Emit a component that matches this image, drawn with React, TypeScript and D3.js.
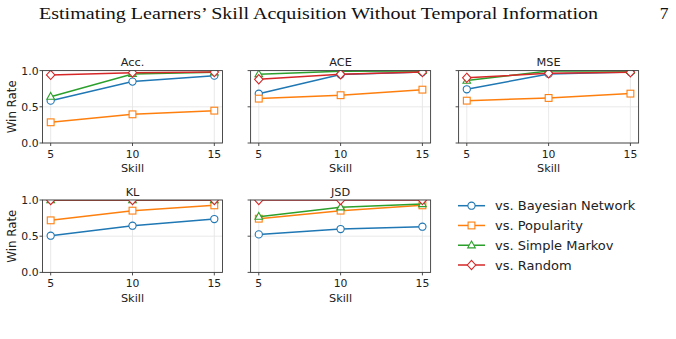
import * as d3 from 'd3';

// chart values
const skills = [5, 10, 15];
const panelTitles = ['Acc.', 'ACE', 'MSE', 'KL', 'JSD'];
const seriesNames = ['vs. Bayesian Network', 'vs. Popularity', 'vs. Simple Markov', 'vs. Random'];
const seriesColors = ['#1f77b4', '#ff7f0e', '#2ca02c', '#d62728'];
const seriesMarkers = ['circle', 'square', 'triangle', 'diamond'];

const accValues = [
  [0.585, 0.848, 0.93],
  [0.286, 0.396, 0.447],
  [0.64, 0.954, 0.977],
  [0.94, 0.972, 0.98],
];
const aceValues = [
  [0.68, 0.945, 0.98],
  [0.613, 0.66, 0.737],
  [0.95, 0.99, 0.995],
  [0.88, 0.95, 0.98],
];
const mseValues = [
  [0.742, 0.954, 0.98],
  [0.585, 0.622, 0.682],
  [0.862, 0.995, 0.995],
  [0.9, 0.963, 0.977],
];
const klValues = [
  [0.507, 0.645, 0.737],
  [0.719, 0.853, 0.926],
  [1.0, 1.0, 1.0],
  [1.0, 1.0, 1.0],
];
const jsdValues = [
  [0.525, 0.599, 0.631],
  [0.742, 0.853, 0.926],
  [0.77, 0.899, 0.945],
  [1.0, 1.0, 1.0],
];
const panelValues = [accValues, aceValues, mseValues, klValues, jsdValues];
const yTicks = [0, 0.5, 1];

const FONT = "'DejaVu Sans', 'Noto Sans', sans-serif";
const SERIF = "'Liberation Serif', 'DejaVu Serif', serif";

const plotW = 180;
const plotH = 72.4;
const colLeft = [42.5, 250.6, 458.6];
const rowTop = [70.6, 200];

function Marker({ kind, x, y, color }: { kind: string; x: number; y: number; color: string }) {
  const sw = 1.1;
  if (kind === 'circle')
    return <circle cx={x} cy={y} r={3.6} fill="#fff" stroke={color} strokeWidth={sw} />;
  if (kind === 'square')
    return <rect x={x - 3.4} y={y - 3.4} width={6.8} height={6.8} fill="#fff" stroke={color} strokeWidth={sw} />;
  if (kind === 'triangle') {
    const p = d3.path();
    p.moveTo(x, y - 4.2);
    p.lineTo(x + 3.8, y + 2.6);
    p.lineTo(x - 3.8, y + 2.6);
    p.closePath();
    return <path d={p.toString()} fill="#fff" stroke={color} strokeWidth={sw} />;
  }
  const p = d3.path();
  p.moveTo(x, y - 4.6);
  p.lineTo(x + 4.2, y);
  p.lineTo(x, y + 4.6);
  p.lineTo(x - 4.2, y);
  p.closePath();
  return <path d={p.toString()} fill="#fff" stroke={color} strokeWidth={sw} />;
}

function Panel({ idx }: { idx: number }) {
  const col = idx % 3;
  const row = Math.floor(idx / 3);
  const left = colLeft[col];
  const top = rowTop[row];
  const x = d3.scaleLinear().domain([4.5, 15.5]).range([left, left + plotW]);
  const y = d3.scaleLinear().domain([0, 1]).range([top + plotH, top]);
  const line = d3.line<number>().x((_, i) => x(skills[i])).y(d => y(d));
  const clipId = `clip-${idx}`;
  const data = panelValues[idx];
  return (
    <g>
      <defs>
        <clipPath id={clipId}>
          <rect x={left} y={top} width={plotW} height={plotH} />
        </clipPath>
      </defs>
      {skills.map(s => (
        <line key={'gx' + s} x1={x(s)} x2={x(s)} y1={top} y2={top + plotH} stroke="#e3e3e3" strokeWidth={0.8} />
      ))}
      {yTicks.map(t => (
        <line key={'gy' + t} x1={left} x2={left + plotW} y1={y(t)} y2={y(t)} stroke="#e3e3e3" strokeWidth={0.8} />
      ))}
      <g clipPath={`url(#${clipId})`}>
        {data.map((vals, si) => (
          <g key={si}>
            <path d={line(vals) ?? ''} fill="none" stroke={seriesColors[si]} strokeWidth={1.5} />
            {vals.map((v, i) => (
              <Marker key={i} kind={seriesMarkers[si]} x={x(skills[i])} y={y(v)} color={seriesColors[si]} />
            ))}
          </g>
        ))}
      </g>
      <rect x={left} y={top} width={plotW} height={plotH} fill="none" stroke="#3a3a3a" strokeWidth={0.9} />
      {skills.map(s => (
        <g key={'tx' + s}>
          <line x1={x(s)} x2={x(s)} y1={top + plotH} y2={top + plotH + 3} stroke="#3a3a3a" strokeWidth={0.9} />
          <text x={x(s)} y={top + plotH + 14.8} textAnchor="middle" fontSize={10.8} fill="#222" fontFamily={FONT}>
            {s}
          </text>
        </g>
      ))}
      {yTicks.map(t => (
        <g key={'ty' + t}>
          <line x1={left - 3} x2={left} y1={y(t)} y2={y(t)} stroke="#3a3a3a" strokeWidth={0.9} />
          {col === 0 && (
            <text x={left - 4} y={y(t) + 3.9} textAnchor="end" fontSize={10.8} fill="#222" fontFamily={FONT}>
              {d3.format('.1f')(t)}
            </text>
          )}
        </g>
      ))}
      <text x={left + plotW / 2} y={top - 4.3} textAnchor="middle" fontSize={11.3} fill="#222" fontFamily={FONT}>
        {panelTitles[idx]}
      </text>
      <text x={left + plotW / 2} y={top + plotH + 29.3} textAnchor="middle" fontSize={11.3} fill="#222" fontFamily={FONT}>
        Skill
      </text>
      {col === 0 && (
        <text
          transform={`translate(${left - 26.5},${top + plotH / 2}) rotate(-90)`}
          textAnchor="middle"
          fontSize={11.8}
          fill="#222"
          fontFamily={FONT}
        >
          Win Rate
        </text>
      )}
    </g>
  );
}

export default function App() {
  const legendX = 458;
  const legendY = d3.scaleLinear().domain([0, 3]).range([205.7, 265]);
  return (
    <svg width={676} height={339} style={{ position: 'absolute', left: 0, top: 0, background: '#fff' }}>
      <rect width={676} height={339} fill="#fff" />
      <text x={39} y={19} fontSize={17.5} fontFamily={SERIF} fill="#111" textLength={559} lengthAdjust="spacingAndGlyphs">
        Estimating Learners’ Skill Acquisition Without Temporal Information
      </text>
      <text x={664} y={19} fontSize={17.5} textAnchor="middle" fontFamily={SERIF} fill="#111">
        7
      </text>
      {panelTitles.map((_, i) => (
        <Panel key={i} idx={i} />
      ))}
      {seriesNames.map((name, i) => (
        <g key={name}>
          <line x1={legendX} x2={legendX + 27} y1={legendY(i)} y2={legendY(i)} stroke={seriesColors[i]} strokeWidth={1.5} />
          <Marker kind={seriesMarkers[i]} x={legendX + 13.5} y={legendY(i)} color={seriesColors[i]} />
          <text x={legendX + 37} y={legendY(i) + 4.6} fontSize={13} fill="#222" fontFamily={FONT}>
            {name}
          </text>
        </g>
      ))}
    </svg>
  );
}
